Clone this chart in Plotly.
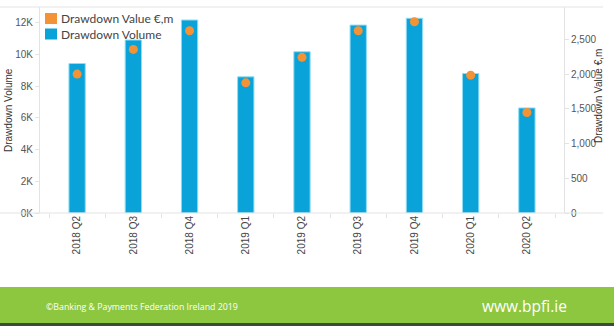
import plotly.graph_objects as go

categories = ["2018 Q2", "2018 Q3", "2018 Q4", "2019 Q1", "2019 Q2",
              "2019 Q3", "2019 Q4", "2020 Q1", "2020 Q2"]
drawdown_volume = [9420, 10900, 12160, 8580, 10160, 11840, 12270, 8790, 6620]
drawdown_value = [1999, 2355, 2623, 1873, 2240, 2623, 2753, 1984, 1446]
left_ticks = [0, 2000, 4000, 6000, 8000, 10000, 12000]
left_labels = ["0K", "2K", "4K", "6K", "8K", "10K", "12K"]
right_ticks = [0, 500, 1000, 1500, 2000, 2500]
legend_names = ["Drawdown Value €,m", "Drawdown Volume"]

W, H = 614, 326
L, R, T, B = 40, 564, 7, 213
pw, ph = R - L, B - T

def px_x(x):
    return (x - L) / pw

def px_y(y):
    return (B - y) / ph

BLUE = "#0aa3d9"
ORANGE = "#f39336"
GRID = "#e3e3e3"
TXT = "#555555"

fig = go.Figure()
fig.add_trace(go.Bar(x=categories, y=drawdown_volume, name=legend_names[1],
                     width=0.29, showlegend=False,
                     marker=dict(color=BLUE, line=dict(color="#8fdcf5", width=1))))
fig.add_trace(go.Scatter(x=categories, y=drawdown_value, yaxis="y2", mode="markers",
                         name=legend_names[0], showlegend=False,
                         marker=dict(color=ORANGE, size=9, line=dict(width=0))))

shapes = [
    dict(type="line", xref="paper", yref="paper", x0=px_x(0), x1=px_x(603),
         y0=1, y1=1, line=dict(color=GRID, width=1)),
    dict(type="line", xref="paper", yref="paper", x0=px_x(0), x1=px_x(603),
         y0=0, y1=0, line=dict(color=GRID, width=1)),
    dict(type="rect", xref="paper", yref="paper", x0=px_x(0), x1=px_x(W),
         y0=px_y(323), y1=px_y(287), fillcolor="#8dc63f", line=dict(width=0),
         layer="below"),
    dict(type="rect", xref="paper", yref="paper", x0=px_x(0), x1=px_x(W),
         y0=px_y(326), y1=px_y(323), fillcolor="#3d4a3a", line=dict(width=0),
         layer="below"),
]

annotations = [
    dict(text="Drawdown Volume", xref="paper", yref="paper", x=px_x(8), y=px_y(110),
         textangle=-90, showarrow=False, xanchor="center", yanchor="middle",
         font=dict(family="Liberation Sans, Arial", size=10, color="#333333")),
    dict(text="Drawdown Value €,m", xref="paper", yref="paper", x=px_x(598), y=px_y(96),
         textangle=-90, showarrow=False, xanchor="center", yanchor="middle",
         font=dict(family="Liberation Sans, Arial", size=10, color="#333333")),
    dict(text="©Banking & Payments Federation Ireland 2019", xref="paper", yref="paper",
         x=px_x(44), y=px_y(307), showarrow=False, xanchor="left", yanchor="middle",
         font=dict(family="Open Sans", size=8.8, color="white")),
    dict(text="www.bpfi.ie", xref="paper", yref="paper",
         x=px_x(569), y=px_y(306), showarrow=False, xanchor="right", yanchor="middle",
         font=dict(family="Open Sans", size=15.5, color="white")),
]

# manual legend (square swatches + labels)
legend_colors = [ORANGE, BLUE]
legend_y = [18.5, 34]
for name, col, yc in zip(legend_names, legend_colors, legend_y):
    shapes.append(dict(type="rect", xref="paper", yref="paper",
                       x0=px_x(45), x1=px_x(57), y0=px_y(yc + 5.5), y1=px_y(yc - 5.5),
                       fillcolor=col, line=dict(width=0)))
    annotations.append(dict(text=name, xref="paper", yref="paper", x=px_x(59),
                            y=px_y(yc), showarrow=False, xanchor="left",
                            yanchor="middle",
                            font=dict(family="Lato", size=12, color="#444444")))

fig.update_layout(
    width=W, height=H,
    margin=dict(l=L, r=W - R, t=T, b=H - B, pad=0),
    paper_bgcolor="white", plot_bgcolor="white",
    showlegend=False,
    xaxis=dict(type="category", categoryorder="array", categoryarray=categories,
               range=[-0.66, 8.66], tickangle=-90, showgrid=False, zeroline=False,
               showline=False, ticks="outside", tickson="boundaries", ticklen=4,
               tickcolor=GRID,
               tickfont=dict(family="Liberation Sans, Arial", size=10, color="#444444")),
    yaxis=dict(range=[0, 12980], tickvals=left_ticks, ticktext=left_labels,
               showgrid=False, zeroline=False, showline=True, linecolor=GRID,
               ticks="outside", ticklen=4, tickcolor=GRID,
               tickfont=dict(family="Liberation Sans, Arial", size=10, color=TXT)),
    yaxis2=dict(range=[0, 2965], tickvals=right_ticks, tickformat=",",
                overlaying="y", side="right", showgrid=False, zeroline=False,
                showline=True, linecolor=GRID, ticks="outside", ticklen=4,
                tickcolor=GRID,
                tickfont=dict(family="Liberation Sans, Arial", size=10, color=TXT)),
    shapes=shapes,
    annotations=annotations,
)

fig.write_html("out.html")
